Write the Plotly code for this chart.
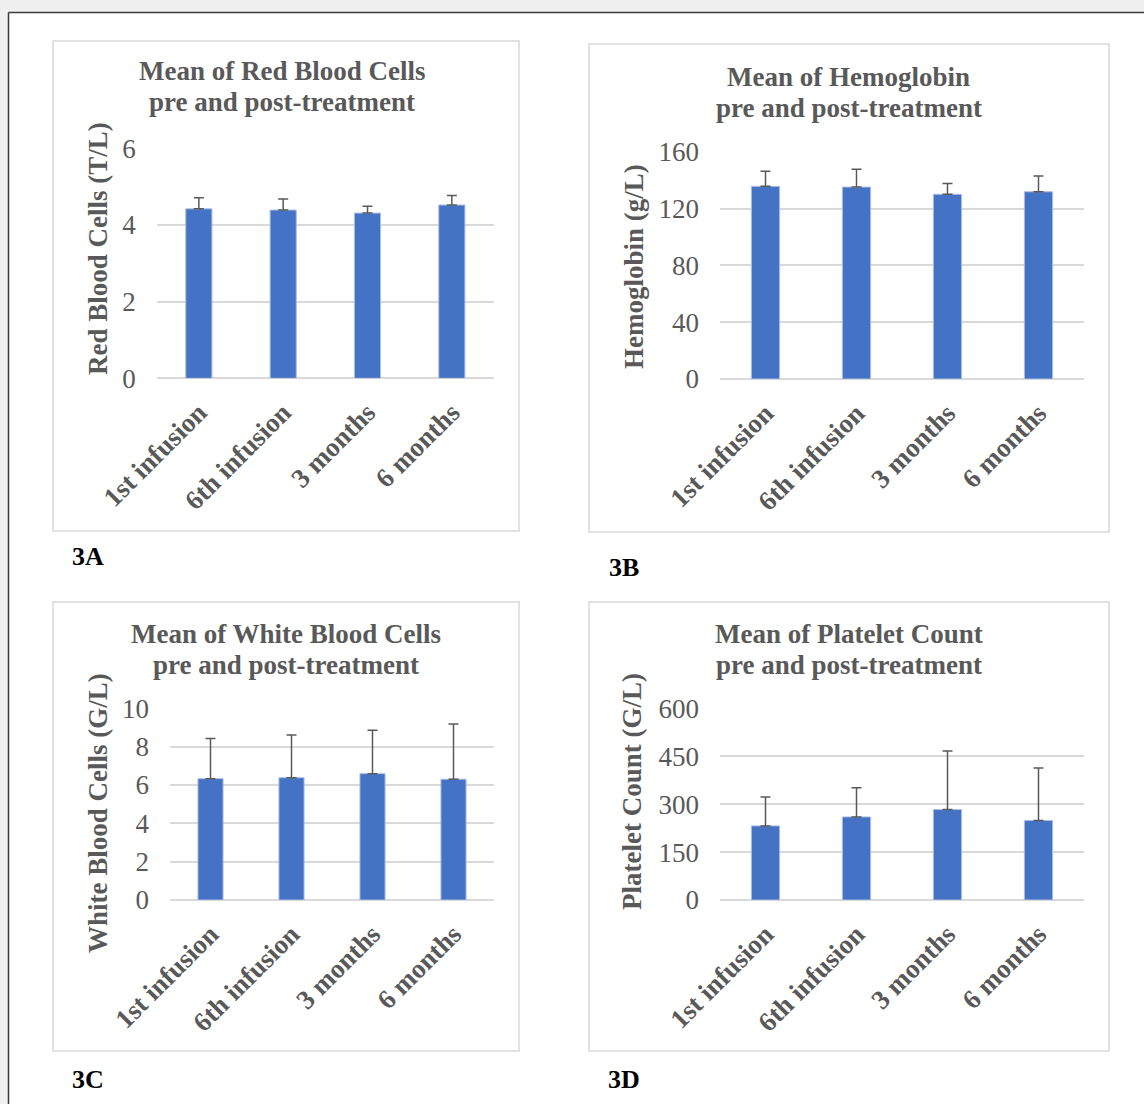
import plotly.graph_objects as go

# ---- data -------------------------------------------------------------
timepoints = ["1st infusion", "6th infusion", "3 months", "6 months"]

rbc_mean = [4.42, 4.39, 4.31, 4.52]
rbc_sd = [0.29, 0.29, 0.18, 0.25]

hb_mean = [135.6, 135.1, 130.0, 131.8]
hb_sd = [10.6, 12.5, 7.7, 11.1]

wbc_mean = [6.33, 6.38, 6.59, 6.30]
wbc_sd = [2.10, 2.23, 2.26, 2.88]

plt_mean = [232, 260, 283, 249]
plt_sd = [90, 91, 183, 164]

# ---- page geometry (pixels) ------------------------------------------
W, H = 1144, 1104
FONT = "Liberation Serif, Times New Roman, serif"
GREY = "#595959"
BAR = "#4472C4"
GRID = "#D9D9D9"


def px_x(x):
    return x / W


def px_y(y):
    return 1 - y / H


panels = [
    dict(key="", mean=rbc_mean, sd=rbc_sd, rng=[0, 6], dtick=2,
         plot=(156.7, 148.3, 494, 378.3), box=(53, 41, 519, 531),
         title=("Mean of Red Blood Cells", "pre and post-treatment"),
         title_pos=(282, 71, 102), ytitle="Red Blood Cells (T/L)",
         ytitle_pos=(98, 249), tag="3A", tag_pos=(70, 556)),
    dict(key="2", mean=hb_mean, sd=hb_sd, rng=[0, 160], dtick=40,
         plot=(720, 151.7, 1084, 379), box=(589, 44, 1109, 532),
         title=("Mean of Hemoglobin", "pre and post-treatment"),
         title_pos=(849, 77, 108), ytitle="Hemoglobin (g/L)",
         ytitle_pos=(634, 267), tag="3B", tag_pos=(607, 567)),
    dict(key="3", mean=wbc_mean, sd=wbc_sd, rng=[0, 10], dtick=2,
         plot=(170, 708.3, 494, 900), box=(53, 602, 519, 1051),
         title=("Mean of White Blood Cells", "pre and post-treatment"),
         title_pos=(286, 634, 665), ytitle="White Blood Cells (G/L)",
         ytitle_pos=(98, 813), tag="3C", tag_pos=(70, 1079)),
    dict(key="4", mean=plt_mean, sd=plt_sd, rng=[0, 600], dtick=150,
         plot=(720, 708.3, 1084, 900), box=(589, 602, 1109, 1051),
         title=("Mean of Platelet Count", "pre and post-treatment"),
         title_pos=(849, 634, 665), ytitle="Platelet Count (G/L)",
         ytitle_pos=(632, 791), tag="3D", tag_pos=(606, 1079)),
]

fig = go.Figure()
annotations = []
shapes = []

# light grey page surround and dark frame lines
shapes.append(dict(type="rect", xref="paper", yref="paper", x0=0, x1=1,
                   y0=px_y(12.5), y1=1, fillcolor="#F0F0F0", line_width=0,
                   layer="below"))
shapes.append(dict(type="rect", xref="paper", yref="paper", x0=0,
                   x1=px_x(8.5), y0=0, y1=1, fillcolor="#F0F0F0",
                   line_width=0, layer="below"))
shapes.append(dict(type="line", xref="paper", yref="paper", x0=px_x(8.5),
                   x1=1, y0=px_y(12.5), y1=px_y(12.5),
                   line=dict(color="#3A3A3A", width=1.5)))
shapes.append(dict(type="line", xref="paper", yref="paper", x0=px_x(8.5),
                   x1=px_x(8.5), y0=0, y1=px_y(12.5),
                   line=dict(color="#3A3A3A", width=1.5)))

for p in panels:
    k = p["key"]
    xa = "x" + k
    ya = "y" + k
    fig.add_trace(go.Bar(
        x=timepoints, y=p["mean"], xaxis=xa, yaxis=ya, width=0.31,
        marker=dict(color=BAR, line=dict(color="#A9BEE6", width=1)),
        error_y=dict(type="data", array=p["sd"], arrayminus=[0] * len(p["sd"]),
                     symmetric=False, color=GREY, thickness=1.5, width=5),
        showlegend=False, hoverinfo="skip",
    ))

    x0, y0, x1, y1 = p["plot"]
    xname = "xaxis" + k
    yname = "yaxis" + k
    fig.update_layout(**{
        xname: dict(domain=[px_x(x0), px_x(x1)], anchor=ya,
                    type="category", tickangle=-45, showgrid=False,
                    showline=False, zeroline=False, ticks="",
                    automargin=False, ticklabelstandoff=12,
                    tickfont=dict(family=FONT, size=27, color=GREY,
                                  weight="bold")),
        yname: dict(domain=[px_y(y1), px_y(y0)], anchor=xa,
                    range=p["rng"], dtick=p["dtick"], tick0=0,
                    showgrid=True, gridcolor=GRID, gridwidth=1.5,
                    zeroline=True, zerolinecolor=GRID, zerolinewidth=1.5,
                    showline=False, ticks="", automargin=False,
                    ticklabelstandoff=20,
                    tickfont=dict(family=FONT, size=27, color=GREY)),
    })

    # panel frame
    bx0, by0, bx1, by1 = p["box"]
    shapes.append(dict(type="rect", xref="paper", yref="paper",
                       x0=px_x(bx0), x1=px_x(bx1), y0=px_y(by1), y1=px_y(by0),
                       line=dict(color=GRID, width=1.5), layer="below"))

    # two-line chart title
    tx, ty1, ty2 = p["title_pos"]
    for text, ty in zip(p["title"], (ty1, ty2)):
        annotations.append(dict(text=text, x=px_x(tx), y=px_y(ty),
                                xref="paper", yref="paper", showarrow=False,
                                xanchor="center", yanchor="middle",
                                font=dict(family=FONT, size=27, color=GREY,
                                          weight="bold")))

    # value axis title
    ax, ay = p["ytitle_pos"]
    annotations.append(dict(text=p["ytitle"], x=px_x(ax), y=px_y(ay),
                            xref="paper", yref="paper", showarrow=False,
                            textangle=-90, xanchor="center", yanchor="middle",
                            font=dict(family=FONT, size=27, color=GREY,
                                      weight="bold")))

    # figure panel tag
    gx, gy = p["tag_pos"]
    annotations.append(dict(text=p["tag"], x=px_x(gx), y=px_y(gy),
                            xref="paper", yref="paper", showarrow=False,
                            xanchor="left", yanchor="middle",
                            font=dict(family=FONT, size=26, color="#000000",
                                      weight="bold")))

fig.update_layout(
    width=W, height=H,
    margin=dict(l=0, r=0, t=0, b=0, pad=0, autoexpand=False),
    paper_bgcolor="white", plot_bgcolor="white",
    annotations=annotations, shapes=shapes, bargap=0.69,
)

fig.write_html("out.html")
